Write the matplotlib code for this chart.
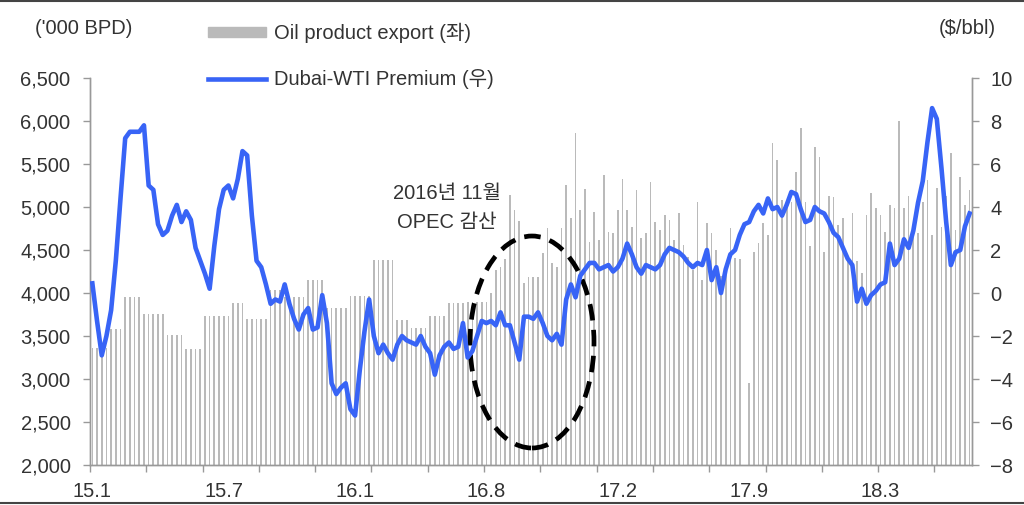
import matplotlib
matplotlib.use("Agg")
import matplotlib.pyplot as plt
from matplotlib.patches import Ellipse, Patch
from matplotlib.lines import Line2D
import numpy as np

plt.rcParams['font.family'] = ['Liberation Sans', 'Noto Sans CJK KR', 'DejaVu Sans']

# weekly oil product export ('000 BPD), left axis  (Jan 2015 - Aug 2018)
export = [
    3360, 3360, 3360, 3360, 3580, 3580, 3580, 3955, 3955, 3955,
    3955, 3755, 3755, 3755, 3755, 3755, 3510, 3510, 3510, 3510,
    3350, 3350, 3350, 3350, 3730, 3730, 3730, 3730, 3730, 3730,
    3885, 3885, 3885, 3700, 3700, 3700, 3700, 3700, 4035, 4035,
    4035, 3950, 3950, 3950, 3950, 3950, 4150, 4150, 4150, 4150,
    3830, 3830, 3830, 3830, 3830, 3965, 3965, 3965, 3965, 3965,
    4380, 4380, 4380, 4380, 4380, 3690, 3690, 3690, 3590, 3590,
    3590, 3590, 3730, 3730, 3730, 3730, 3885, 3885, 3885, 3885,
    3900, 3900, 3900, 3900, 3900, 4000, 4270, 4300, 4400, 5140,
    4965, 4840, 4120, 4190, 4190, 4190, 4465, 4755, 4350, 4300,
    4755, 5255, 4870, 5860, 4965, 5210, 4590, 4940, 4615, 5370,
    4710, 4700, 4965, 5325, 4965, 4770, 5200, 4640, 4700, 5290,
    4825, 4730, 4905, 4850, 4615, 4930, 4560, 4420, 4270, 5060,
    4150, 4815, 4700, 4500, 4200, 4300, 4755, 4405, 4400, 0,
    2950, 4480, 4580, 4815, 4675, 5745, 5545, 5080, 5080, 5060,
    5410, 5920, 5060, 4550, 5700, 5580, 4480, 5130, 5120, 4790,
    4870, 4420, 4930, 4370, 4230, 4905, 5160, 4990, 4905, 4710,
    5025, 4990, 6000, 4990, 5130, 4790, 4700, 5060, 5315, 4675,
    5220, 4770, 5130, 5630, 4730, 5350, 5025, 5200,
]

# weekly Dubai-WTI premium ($/bbl), right axis
premium = [
    0.45, -1.3, -2.9, -2.0, -0.8, 1.5, 4.4, 7.2, 7.5, 7.5,
    7.5, 7.8, 5.0, 4.8, 3.2, 2.7, 2.9, 3.6, 4.1, 3.3,
    3.8, 3.4, 2.1, 1.5, 0.9, 0.2, 2.2, 3.9, 4.8, 5.0,
    4.4, 5.3, 6.6, 6.4, 3.6, 1.5, 1.2, 0.4, -0.5, -0.3,
    -0.4, 0.4, -0.5, -1.2, -1.7, -1.0, -0.7, -1.7, -1.6, -0.1,
    -1.4, -4.2, -4.7, -4.4, -4.2, -5.4, -5.7, -3.6, -1.8, -0.3,
    -2.0, -2.8, -2.4, -2.8, -3.1, -2.4, -2.0, -2.2, -2.3, -2.4,
    -2.0, -2.5, -2.8, -3.8, -2.9, -2.5, -2.3, -2.6, -2.5, -1.4,
    -3.0, -2.7, -2.0, -1.3, -1.4, -1.3, -1.5, -0.9, -1.5, -1.5,
    -2.3, -3.1, -1.1, -1.1, -1.2, -0.9, -1.4, -2.0, -2.2, -1.9,
    -2.4, -0.3, 0.4, -0.2, 0.8, 1.1, 1.4, 1.4, 1.1, 1.2,
    1.3, 1.0, 1.2, 1.6, 2.3, 1.8, 1.2, 0.9, 1.3, 1.2,
    1.1, 1.3, 1.8, 2.1, 2.0, 1.9, 1.7, 1.4, 1.2, 1.4,
    1.3, 2.0, 0.6, 1.2, 0.0, 1.1, 1.8, 2.0, 2.7, 3.2,
    3.3, 3.8, 4.1, 3.7, 4.4, 3.9, 4.0, 3.6, 4.1, 4.7,
    4.6, 3.9, 3.3, 3.4, 4.0, 3.8, 3.7, 3.3, 2.8, 2.6,
    2.1, 1.6, 1.3, -0.4, 0.2, -0.5, -0.1, 0.1, 0.4, 0.5,
    2.3, 1.3, 1.6, 2.5, 2.1, 2.9, 4.2, 5.2, 7.0, 8.6,
    8.1, 5.8, 3.3, 1.3, 1.9, 2.0, 3.1, 3.7,
]

# x labels every 28 weeks, tick marks every 12 weeks
x_labels = ['15.1', '15.7', '16.1', '16.8', '17.2', '17.9', '18.3']
label_step = 28
tick_step = 12

left_ticks = [2000, 2500, 3000, 3500, 4000, 4500, 5000, 5500, 6000, 6500]
right_ticks = [-8, -6, -4, -2, 0, 2, 4, 6, 8, 10]

N = len(export)
x = np.arange(N)

txt = '#333333'
axc = '#999999'
bar_c = '#bababa'
line_c = '#3864f6'
fs = 14.5

fig = plt.figure(figsize=(10.24, 5.05), dpi=100)
ax = fig.add_axes([0.0879, 0.0792, 0.8613, 0.7663])
ax2 = ax.twinx()

ax.bar(x, export, width=0.36, color=bar_c, zorder=1)
ax.set_ylim(2000, 6500)
ax.set_xlim(-0.5, N - 0.5)
ax.set_yticks(left_ticks)
ax.set_yticklabels([f'{v:,}' for v in left_ticks])
ax.set_xticks(np.arange(0, N, tick_step) - 0.5)
ax.set_xticklabels([])
ax.set_xticks(np.arange(len(x_labels)) * label_step, minor=True)
ax.set_xticklabels(x_labels, minor=True)
ax.tick_params(axis='x', which='minor', length=0, pad=12, labelsize=fs, labelcolor=txt)

ax2.plot(x, premium, color=line_c, lw=3.3, solid_joinstyle='round', zorder=3)
ax2.set_ylim(-8, 10)
ax2.set_yticks(right_ticks)

for a in (ax, ax2):
    for s in a.spines.values():
        s.set_color(axc)
        s.set_linewidth(1.0)
    a.spines['top'].set_visible(False)
    a.tick_params(which='major', colors=axc, labelcolor=txt, labelsize=fs, length=5, width=1.0)
ax.tick_params(axis='y', pad=9)
ax2.tick_params(axis='y', pad=8)

# dashed ellipse highlighting the OPEC cut
cx, cy = (532 - 90) / 882, (465 - 342) / 387
ell = Ellipse((cx, cy), 124 / 882, 212 / 387, fill=False, ec='black', lw=3.4,
              ls=(0, (3.5, 2.0)), transform=ax.transAxes, zorder=5)
ax.add_patch(ell)

ax.text((447 - 90) / 882, (465 - 193) / 387, '2016년 11월', transform=ax.transAxes,
        ha='center', va='center', fontsize=fs, color=txt)
ax.text((447 - 90) / 882, (465 - 222) / 387, 'OPEC 감산', transform=ax.transAxes,
        ha='center', va='center', fontsize=fs, color=txt)

# axis unit labels
fig.text(84 / 1024, 1 - 29 / 505, "('000 BPD)", ha='center', va='center', fontsize=fs, color=txt)
fig.text(967 / 1024, 1 - 29 / 505, '($/bbl)', ha='center', va='center', fontsize=fs, color=txt)

# legend
handles = [Patch(color=bar_c), Line2D([0], [0], color=line_c, lw=3.3)]
labels = ['Oil product export (좌)', 'Dubai-WTI Premium (우)']
leg = fig.legend(handles, labels, loc='upper left', bbox_to_anchor=(208 / 1024, 1 - 23 / 505),
                 frameon=False, fontsize=fs, handlelength=2.9, handleheight=0.45,
                 labelspacing=1.3, handletextpad=0.4, borderaxespad=0, borderpad=0)
for t in leg.get_texts():
    t.set_color(txt)

# screenshot borders
fig.add_artist(Line2D([0, 1], [0.998, 0.998], color='#444444', lw=1.5, transform=fig.transFigure))
fig.add_artist(Line2D([0, 1], [0.004, 0.004], color='#444444', lw=1.5, transform=fig.transFigure))

fig.savefig('out.png', dpi=100)
